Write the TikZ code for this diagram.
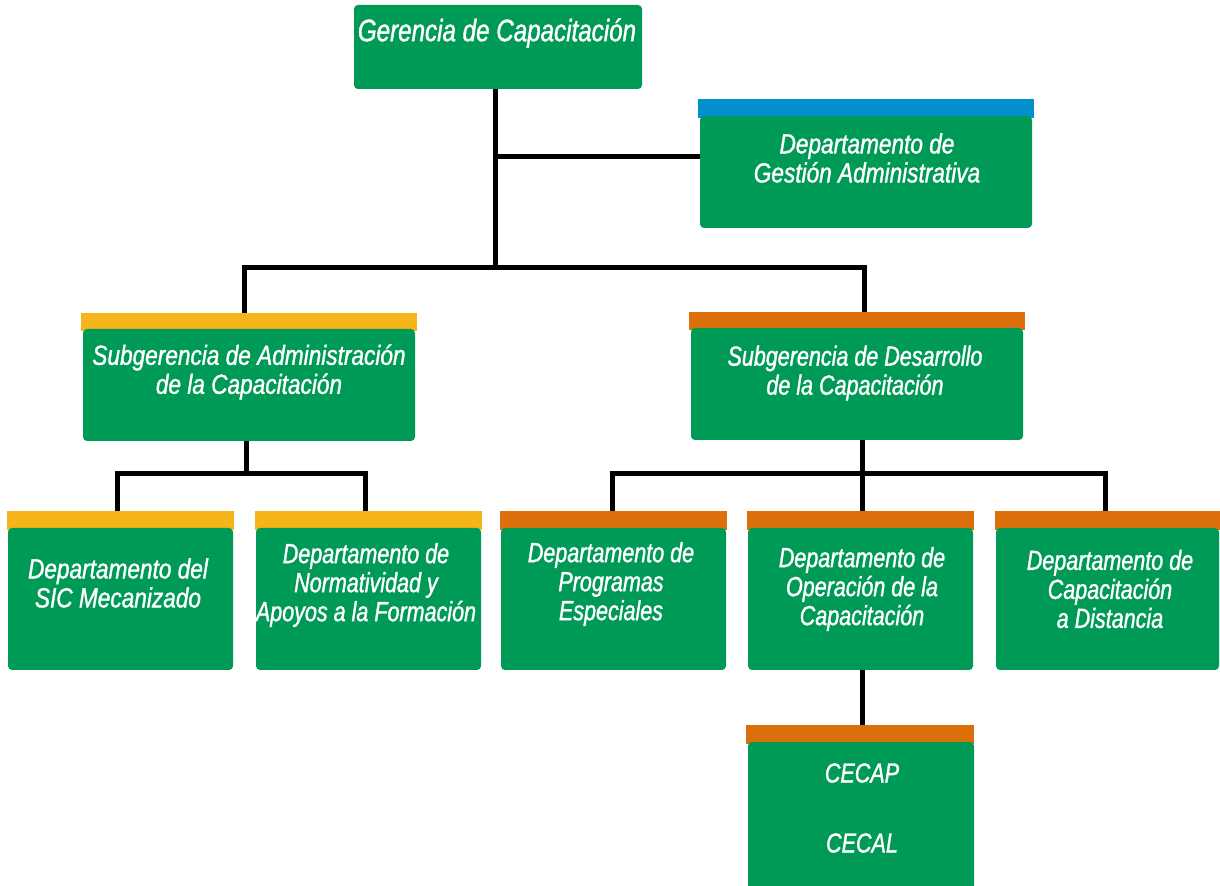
\documentclass[tikz,border=0pt]{standalone}
\usepackage{fontspec}
\newfontfamily\labwide[FakeStretch=0.82,FakeBold=1.2]{Liberation Sans}
\newfontfamily\lab[FakeStretch=0.78,FakeBold=1.2]{Liberation Sans}
\usetikzlibrary{fit}
\definecolor{gr}{HTML}{009A57}
\definecolor{barY}{HTML}{F5B418}
\definecolor{barO}{HTML}{DD6F0A}
\definecolor{barB}{HTML}{0090CF}
\tikzset{
  body/.style={fill=gr, rounded corners=2pt, inner sep=0pt, draw=none},
  bar/.style={inner sep=0pt, draw=none},
  lbl/.style={text=white, font=\lab\itshape\fontsize{13.8}{14.5}\selectfont, align=center, inner sep=0pt},
  lblwide/.style={lbl, font=\labwide\itshape\fontsize{13.8}{14.5}\selectfont},
  big/.style={text=white, font=\lab\itshape\fontsize{15.5}{17}\selectfont, align=center, inner sep=0pt},
  conn/.style={line width=2.5pt, draw=black}
}
\begin{document}
\begin{tikzpicture}[x=0.5pt,y=-0.5pt]
\useasboundingbox (0,0) rectangle (1220,886);

% Boxes
\node[body, fit={(354,5)(642,89)}] (ger) {};
\node[bar, fill=barB, fit={(698,99)(1034,118)}] (gestbar) {};
\node[body, fit={(700,116)(1032,228)}] (gest) {};
\node[bar, fill=barY, fit={(81,313)(417,331)}] (sabar) {};
\node[body, fit={(83,329)(415,441)}] (sa) {};
\node[bar, fill=barO, fit={(689,312)(1025,330)}] (sdbar) {};
\node[body, fit={(691,328)(1023,440)}] (sd) {};
\node[bar, fill=barY, fit={(7,511)(234,530)}] (sicbar) {};
\node[body, fit={(8,528)(233,670)}] (sic) {};
\node[bar, fill=barY, fit={(255,511)(482,530)}] (norbar) {};
\node[body, fit={(256,528)(481,670)}] (nor) {};
\node[bar, fill=barO, fit={(500,511)(727,530)}] (probar) {};
\node[body, fit={(501,528)(726,670)}] (pro) {};
\node[bar, fill=barO, fit={(747,511)(974,530)}] (opebar) {};
\node[body, fit={(748,528)(973,670)}] (ope) {};
\node[bar, fill=barO, fit={(995,511)(1220,530)}] (disbar) {};
\node[body, fit={(996,528)(1219,670)}] (dis) {};
\node[bar, fill=barO, fit={(746,725)(974,744)}] (cecbar) {};
\node[body, fit={(748,742)(974,890)}] (cec) {};

% Labels
\node[big] (t-ger) at (497,33) {Gerencia de Capacitación};
\node[lblwide] (t-gest) at (867,158) {Departamento de\\Gestión Administrativa};
\node[lblwide] (t-sa) at (249,372) {Subgerencia de Administración\\de la Capacitación};
\node[lbl] (t-sd) at (855,373) {Subgerencia de Desarrollo\\de la Capacitación};
\node[lblwide] (t-sic) at (118,583) {Departamento del\\SIC Mecanizado};
\node[lbl] (t-nor) at (366,585) {Departamento de\\Normatividad y\\Apoyos a la Formación};
\node[lbl] (t-pro) at (611,584) {Departamento de\\Programas\\Especiales};
\node[lbl] (t-ope) at (862,589) {Departamento de\\Operación de la\\Capacitación};
\node[lbl] (t-dis) at (1110,589) {Departamento de\\Capacitación\\a Distancia};
\node[lbl] (t-cecap) at (862,773) {CECAP};
\node[lbl] (t-cecal) at (862,843) {CECAL};

% Junctions
\coordinate (jg) at (495,157);
\coordinate (j1) at (495,268);
\coordinate (j1l) at (244,268);
\coordinate (j1r) at (864,268);
\coordinate (j2) at (246,474);
\coordinate (j2l) at (117,474);
\coordinate (j2r) at (365,474);
\coordinate (j3) at (862,474);
\coordinate (j3l) at (612,474);
\coordinate (j3r) at (1105,474);

% Connectors
\draw[conn] (ger.south -| j1) -- (j1);
\draw[conn] (jg) -- (gest.west |- jg);
\draw[conn, line cap=rect] (j1l) -- (j1r);
\draw[conn] (j1l) -- (j1l |- sabar.north);
\draw[conn] (j1r) -- (j1r |- sdbar.north);
\draw[conn] (sa.south -| j2) -- (j2);
\draw[conn, line cap=rect] (j2l) -- (j2r);
\draw[conn] (j2l) -- (j2l |- sicbar.north);
\draw[conn] (j2r) -- (j2r |- norbar.north);
\draw[conn] (sd.south -| j3) -- (j3);
\draw[conn, line cap=rect] (j3l) -- (j3r);
\draw[conn] (j3l) -- (j3l |- probar.north);
\draw[conn] (j3) -- (j3 |- opebar.north);
\draw[conn] (j3r) -- (j3r |- disbar.north);
\draw[conn] (ope.south -| j3) -- (j3 |- cecbar.north);
\end{tikzpicture}
\end{document}
